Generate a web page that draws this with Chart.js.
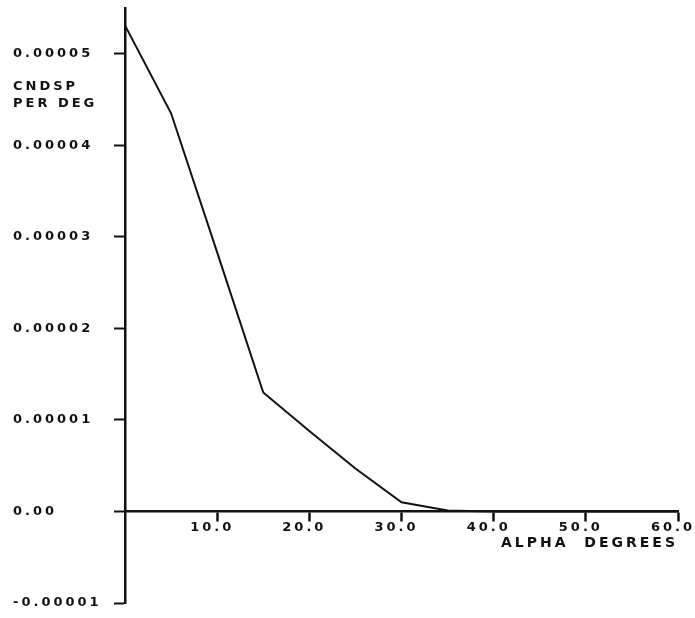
<!DOCTYPE html>
<html>
<head>
<meta charset="utf-8">
<script src="https://cdn.jsdelivr.net/npm/chart.js@4/dist/chart.umd.min.js"></script>
<style>
  html, body { margin: 0; padding: 0; background: #fff; }
  canvas { display: block; }
</style>
</head>
<body>
<canvas id="c" width="695" height="618"></canvas>
<script>
// values
const alpha = [0, 5, 10, 15, 20, 25, 30, 35, 40, 45, 50, 55, 60];
const cndsp = [0.0000531, 0.0000435, 0.0000283, 0.0000130, 0.0000088, 0.0000047, 0.0000010, 0.0000001, 0, 0, 0, 0, 0];
const yTicks = [-0.00001, 0, 0.00001, 0.00002, 0.00003, 0.00004, 0.00005];
const yTickLabels = ['-0.00001', '0.00', '0.00001', '0.00002', '0.00003', '0.00004', '0.00005'];
const xTicks = [10, 20, 30, 40, 50, 60];
const xTickLabels = ['10.0', '20.0', '30.0', '40.0', '50.0', '60.0'];
const yTitle = ['CNDSP', 'PER DEG'];
const xTitle = 'ALPHA  DEGREES';

const ink = '#111';
const font = { family: '"DejaVu Sans", sans-serif', size: 13, weight: 'bold' };
const spacing = '3px';

// plotter style text spacing and the y title block
const plotterText = {
    id: 'plotterText',
    beforeLayout(chart) { chart.ctx.letterSpacing = spacing; },
    beforeDraw(chart) { chart.ctx.letterSpacing = spacing; },
    afterDraw(chart) {
        const ctx = chart.ctx, y = chart.scales.y;
        ctx.save();
        ctx.letterSpacing = spacing;
        ctx.fillStyle = ink;
        ctx.font = 'bold 13px "DejaVu Sans", sans-serif';
        ctx.textAlign = 'left';
        ctx.textBaseline = 'middle';
        const ty = y.getPixelForValue(0.0000464);
        yTitle.forEach((t, i) => ctx.fillText(t, 13, ty + i * 17));
        ctx.restore();
    }
};

new Chart(document.getElementById('c'), {
    type: 'line',
    data: {
        datasets: [{
            data: alpha.map((a, i) => ({ x: a, y: cndsp[i] })),
            borderColor: ink,
            borderWidth: 2,
            pointRadius: 0,
            tension: 0,
            fill: false
        }]
    },
    options: {
        responsive: false,
        animation: false,
        layout: { padding: { left: 13, right: 17, top: 8, bottom: 15 } },
        plugins: { legend: { display: false }, tooltip: { enabled: false } },
        scales: {
            x: {
                type: 'linear',
                position: { y: 0 },
                min: 0, max: 60,
                afterBuildTicks(s) { s.ticks = xTicks.map(v => ({ value: v })); },
                afterFit(s) { s.paddingLeft = 0; s.paddingRight = 0; },
                ticks: {
                    color: ink, font, padding: -1, labelOffset: -5, maxRotation: 0,
                    callback: (v) => xTickLabels[xTicks.indexOf(v)] ?? ''
                },
                grid: { drawOnChartArea: false, drawTicks: true, tickLength: 9, color: ink, tickColor: ink, tickWidth: 2.5 },
                border: { color: ink, width: 2.5 },
                title: { display: true, text: xTitle, align: 'end', color: ink, font: { ...font, size: 14 }, padding: { top: 1, bottom: 0 } }
            },
            y: {
                type: 'linear',
                position: 'left',
                min: -0.00001, max: 0.000055,
                afterBuildTicks(s) { s.ticks = yTicks.map(v => ({ value: v })); },
                afterFit(s) { s.width = 112; s.paddingTop = 0; s.paddingBottom = 0; },
                ticks: {
                    color: ink, font, crossAlign: 'far',
                    callback: (v) => yTickLabels[yTicks.findIndex(t => Math.abs(t - v) < 1e-9)] ?? ''
                },
                grid: { drawOnChartArea: false, drawTicks: true, tickLength: 11, color: ink, tickWidth: 2 },
                border: { color: ink, width: 2.5 }
            }
        }
    },
    plugins: [plotterText]
});
</script>
</body>
</html>
